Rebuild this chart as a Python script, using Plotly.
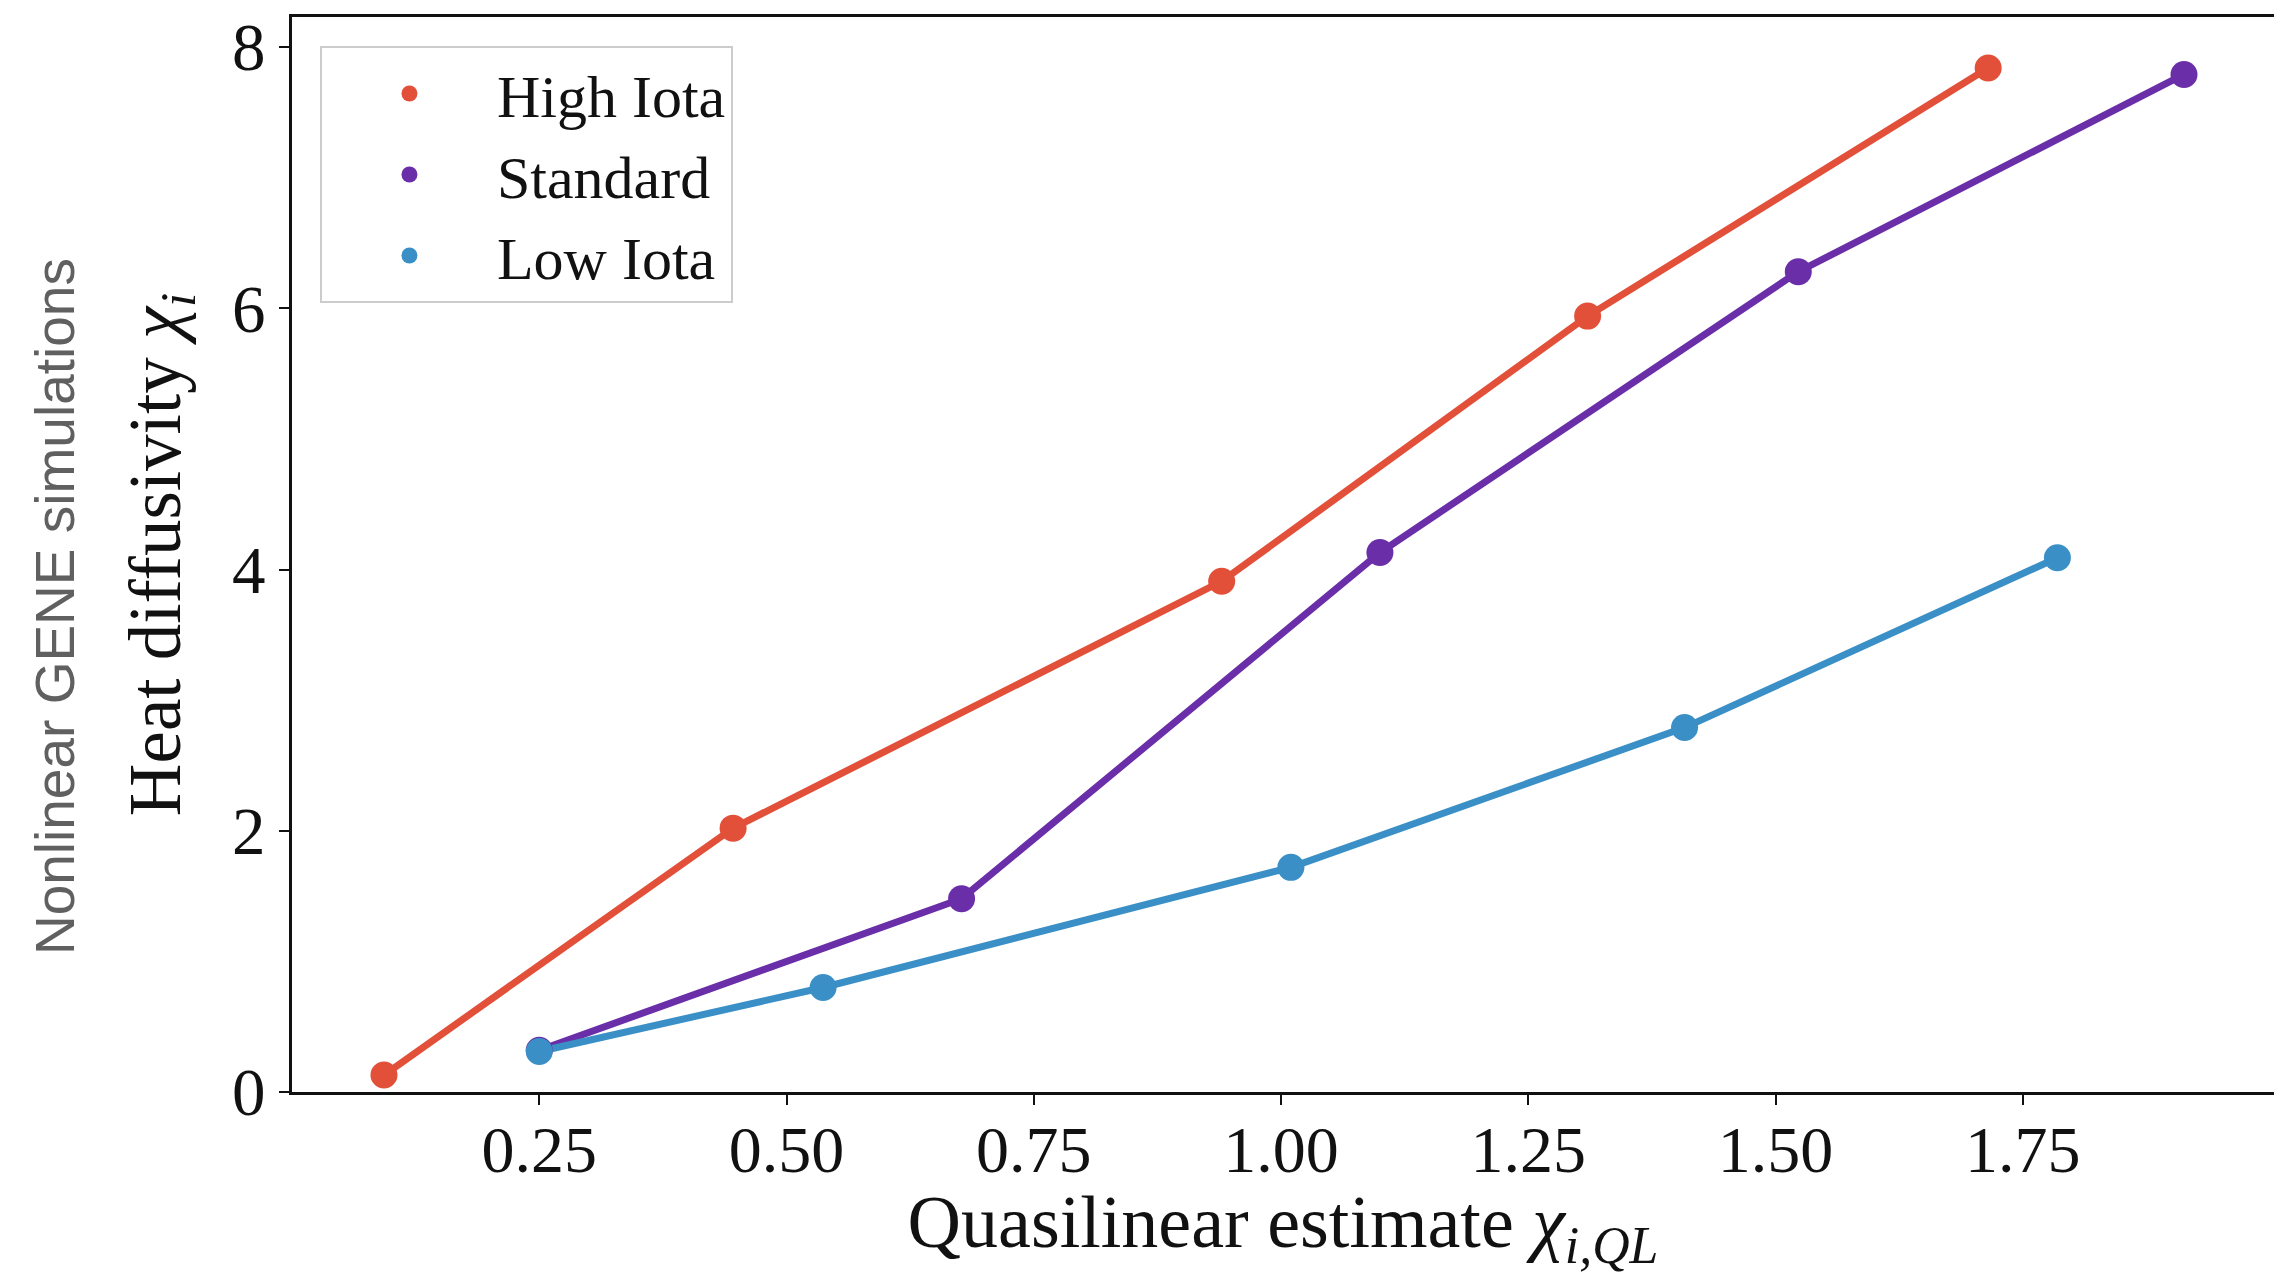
import plotly.graph_objects as go

series_names = ["High Iota", "Standard", "Low Iota"]
series_colors = ["#e2503a", "#6a2ea8", "#3a8fc6"]

high_x = [0.093, 0.446, 0.940, 1.310, 1.715]
high_y = [0.13, 2.02, 3.91, 5.94, 7.84]

std_x = [0.250, 0.677, 1.100, 1.523, 1.913]
std_y = [0.32, 1.48, 4.13, 6.28, 7.79]

low_x = [0.250, 0.537, 1.010, 1.408, 1.785]
low_y = [0.31, 0.80, 1.72, 2.79, 4.09]

x_ticks = [0.25, 0.50, 0.75, 1.00, 1.25, 1.50, 1.75]
x_tick_text = ["0.25", "0.50", "0.75", "1.00", "1.25", "1.50", "1.75"]
y_ticks = [0, 2, 4, 6, 8]

data = [(high_x, high_y), (std_x, std_y), (low_x, low_y)]

SERIF = "Liberation Serif, DejaVu Serif, serif"

fig = go.Figure()
for (xs, ys), name, col in zip(data, series_names, series_colors):
    fig.add_trace(go.Scatter(x=xs, y=ys, mode="lines", line=dict(color=col, width=7),
                             showlegend=False, hoverinfo="skip"))
for (xs, ys), name, col in zip(data, series_names, series_colors):
    fig.add_trace(go.Scatter(x=xs, y=ys, mode="markers", name=name,
                             marker=dict(color=col, size=27, line=dict(width=0))))

fig.update_layout(
    width=2274, height=1274,
    margin=dict(l=292, r=0, t=17, b=182, autoexpand=False),
    paper_bgcolor="white", plot_bgcolor="white",
    font=dict(family=SERIF, size=66, color="#111111"),
    showlegend=True,
    legend=dict(x=0.0141, y=0.973, xanchor="left", yanchor="top",
                bgcolor="rgba(255,255,255,0.9)", bordercolor="#cccccc", borderwidth=2,
                font=dict(family=SERIF, size=60, color="#111111"),
                itemwidth=165, tracegroupgap=0, itemsizing="trace"),
    xaxis=dict(range=[0.0, 2.004], tickvals=x_ticks, ticktext=x_tick_text,
               showgrid=False, zeroline=False, showline=True, linecolor="#111111",
               linewidth=3, mirror=True, ticks="outside", ticklen=10, tickwidth=2,
               tickcolor="#111111", tickfont=dict(family=SERIF, size=66),
               ticklabelstandoff=-12,
               title=dict(text="Quasilinear estimate <i>χ<sub>i,QL</sub></i>",
                          font=dict(family=SERIF, size=74), standoff=14)),
    yaxis=dict(range=[0, 8.23], tickvals=y_ticks,
               showgrid=False, zeroline=False, showline=True, linecolor="#111111",
               linewidth=3, mirror=False, ticks="outside", ticklen=10, tickwidth=2,
               tickcolor="#111111", tickfont=dict(family=SERIF, size=67),
               title=dict(text="Heat diffusivity <i>χ<sub>i</sub></i>",
                          font=dict(family=SERIF, size=73), standoff=28)),
)

fig.add_annotation(text="Nonlinear GENE simulations", xref="paper", yref="paper",
                   x=-0.1196, y=0.452, xanchor="center", yanchor="middle",
                   textangle=-90, showarrow=False,
                   font=dict(family="Liberation Sans, Arial, sans-serif", size=55, color="#606060"))

fig.write_html("out.html")
